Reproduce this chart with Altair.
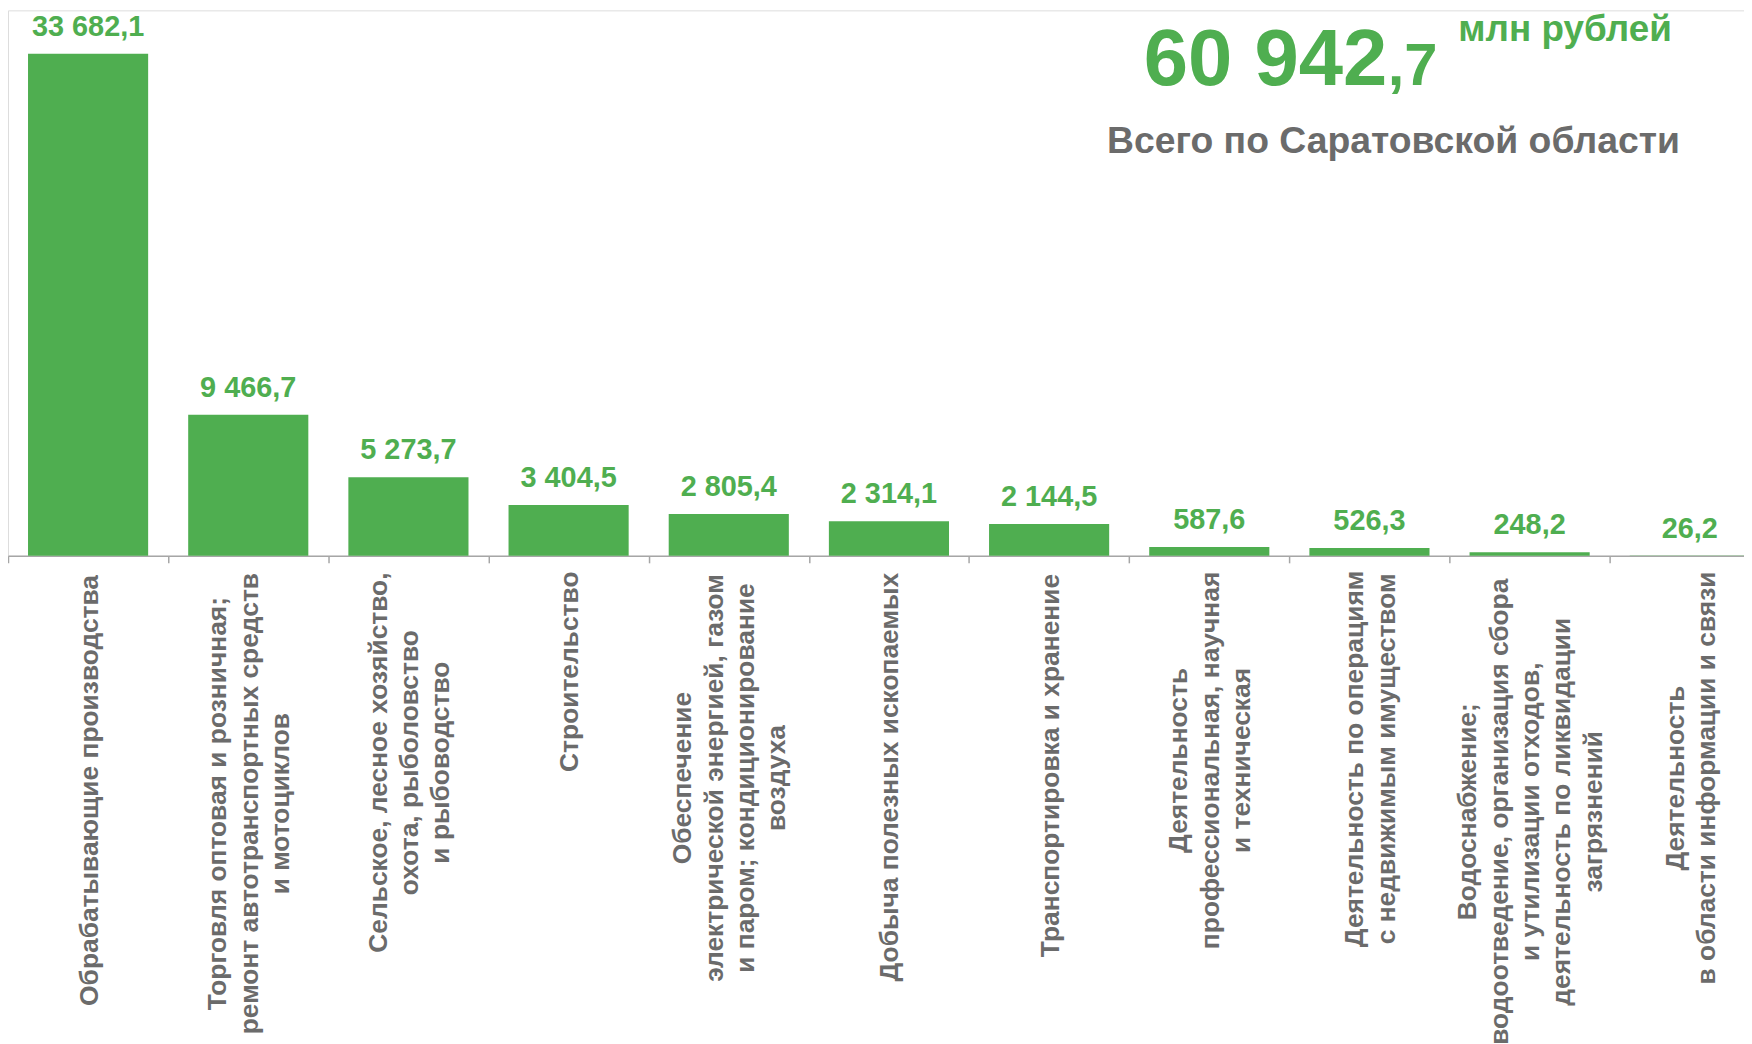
import altair as alt
import pandas as pd

# ---------------- data ----------------
categories = [
    "Обрабатывающие производства",
    "Торговля оптовая и розничная; ремонт автотранспортных средств и мотоциклов",
    "Сельское, лесное хозяйство, охота, рыболовство и рыбоводство",
    "Строительство",
    "Обеспечение электрической энергией, газом и паром; кондиционирование воздуха",
    "Добыча полезных ископаемых",
    "Транспортировка и хранение",
    "Деятельность профессиональная, научная и техническая",
    "Деятельность по операциям с недвижимым имуществом",
    "Водоснабжение; водоотведение, организация сбора и утилизации отходов, деятельность по ликвидации загрязнений",
    "Деятельность в области информации и связи",
]
values = [33682.1, 9466.7, 5273.7, 3404.5, 2805.4, 2314.1, 2144.5, 587.6, 526.3, 248.2, 26.2]
label_lines = [
    "Обрабатывающие  производства",
    "Торговля оптовая и розничная;\nремонт автотранспортных средств\nи мотоциклов",
    "Сельское, лесное хозяйство,\nохота, рыболовство\nи  рыбоводство",
    "Строительство",
    "Обеспечение\nэлектрической энергией, газом\nи паром; кондиционирование\nвоздуха",
    "Добыча полезных ископаемых",
    "Транспортировка и хранение",
    "Деятельность\nпрофессиональная, научная\nи техническая",
    "Деятельность по операциям\nс недвижимым имуществом",
    "Водоснабжение;\nводоотведение,  организация  сбора\nи утилизации отходов,\nдеятельность по ликвидации\nзагрязнений",
    "Деятельность\nв области информации и связи",
]
total_main = "60 942"
total_frac = ",7"
unit_text = "млн рублей"
subtitle_text = "Всего по Саратовской области"

# ---------------- styling ----------------
GREEN = "#4FAE50"
GRAY = "#6B6B6B"
AXIS_GRAY = "#A6A6A6"
FONT = "Liberation Sans"

PLOT_W = 1744
PLOT_H = 548
BAND_RANGE = 1770
BAND = BAND_RANGE / len(categories)
LABEL_FONT = 26.5
LINE_H = 31.5
LABEL_TOP = 565

CHAR_W = {
    "а": 556, "б": 611, "в": 556, "г": 389, "д": 611, "е": 556, "ж": 778, "з": 500,
    "и": 611, "й": 611, "к": 556, "л": 611, "м": 722, "н": 611, "о": 611, "п": 611,
    "р": 611, "с": 556, "т": 500, "у": 556, "ф": 889, "х": 556, "ц": 611, "ч": 556,
    "ш": 889, "щ": 889, "ъ": 667, "ы": 833, "ь": 556, "э": 556, "ю": 833, "я": 556,
    "В": 722, "Д": 722, "О": 778, "С": 722, "Т": 611,
    " ": 278, ",": 278, ";": 333,
}


def text_width(s, size):
    return sum(CHAR_W.get(c, 600) for c in s) * size / 1000.0


def fmt(v):
    return f"{v:,.1f}".replace(",", " ").replace(".", ",")


df = pd.DataFrame({
    "cat": categories,
    "value": values,
    "vlabel": [fmt(v) for v in values],
    "label": label_lines,
})
df["label_y"] = [
    LABEL_TOP + max(text_width(line, LABEL_FONT) for line in s.split("\n")) / 2.0
    for s in label_lines
]
# offset from band start: half a band, minus half the extra lines of the block
df["label_dx"] = [BAND / 2.0 + 1.5 - (len(s.split("\n")) - 1) * LINE_H / 2.0 for s in label_lines]

x_enc = alt.X(
    "cat:N",
    sort=categories,
    scale=alt.Scale(range=[0, BAND_RANGE], paddingInner=0, paddingOuter=0, round=False),
    axis=alt.Axis(
        labels=False, title=None, tickBand="extent",
        domainColor=AXIS_GRAY, tickColor=AXIS_GRAY,
        tickSize=7, domainWidth=1.5, tickWidth=1.5,
    ),
)
y_enc = alt.Y("value:Q", scale=alt.Scale(domain=[0, 36600]), axis=None)

base = alt.Chart(df)

bars = base.mark_bar(color=GREEN, width=alt.RelativeBandSize(0.75)).encode(
    x=x_enc, y=y_enc
)

value_text = base.mark_text(
    color=GREEN, font=FONT, fontSize=29, fontWeight="bold",
    baseline="alphabetic", align="center", dy=-18,
).encode(x=x_enc, y=y_enc, text="vlabel:N")

cat_text = base.mark_text(
    angle=270, align="center", baseline="middle", lineBreak="\n",
    lineHeight=LINE_H, font=FONT, fontSize=LABEL_FONT, fontWeight="bold", color=GRAY,
).encode(
    x=x_enc,
    xOffset=alt.XOffset("label_dx:Q", scale=None),
    y=alt.Y("label_y:Q", scale=None, axis=None),
    text="label:N",
)

t1 = alt.Chart(pd.DataFrame({"t": [total_main]})).mark_text(
    align="left", baseline="alphabetic", font=FONT, fontSize=80,
    fontWeight="bold", color=GREEN,
).encode(x=alt.value(1141), y=alt.value(75), text="t:N")

t2 = alt.Chart(pd.DataFrame({"t": [total_frac]})).mark_text(
    align="left", baseline="alphabetic", font=FONT, fontSize=60,
    fontWeight="bold", color=GREEN,
).encode(x=alt.value(1386), y=alt.value(75), text="t:N")

t3 = alt.Chart(pd.DataFrame({"t": [unit_text]})).mark_text(
    align="left", baseline="alphabetic", font=FONT, fontSize=37,
    fontWeight="bold", color=GREEN,
).encode(x=alt.value(1457), y=alt.value(31), text="t:N")

t4 = alt.Chart(pd.DataFrame({"t": [subtitle_text]})).mark_text(
    align="left", baseline="alphabetic", font=FONT, fontSize=37.5,
    fontWeight="bold", color=GRAY,
).encode(x=alt.value(1104), y=alt.value(143), text="t:N")

chart = (
    alt.layer(bars, value_text, cat_text, t1, t2, t3, t4)
    .resolve_scale(y="independent")
    .properties(
        width=PLOT_W,
        height=PLOT_H,
        autosize=alt.AutoSizeParams(type="none"),
        padding={"left": 0, "top": 0, "right": 0, "bottom": 488},
    )
    .configure_view(stroke=None)
    .configure(font=FONT)
)

chart.save("out.html", embed_options={"renderer": "svg", "actions": False})
